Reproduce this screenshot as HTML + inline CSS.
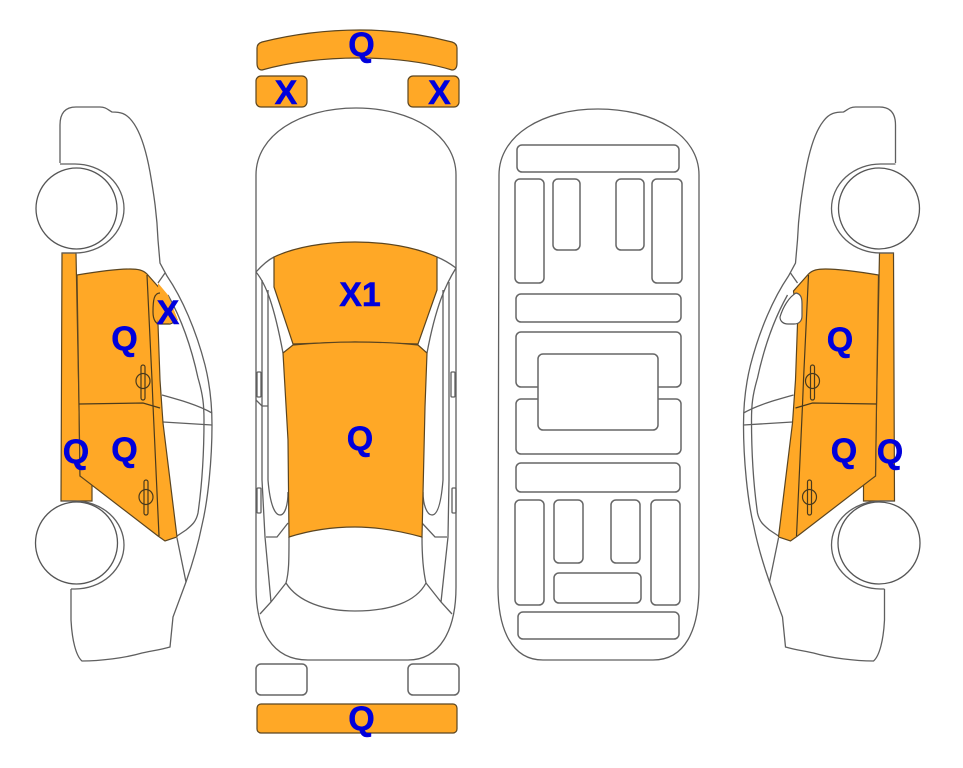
<!DOCTYPE html>
<html>
<head>
<meta charset="utf-8">
<style>
html,body{margin:0;padding:0;background:#fff;}
svg{display:block;}
.o{fill:none;stroke:#5f5f5f;stroke-width:1.3;}
.f{fill:#ffa826;stroke:#5b4520;stroke-width:1.2;}
.n{fill:#ffa826;stroke:none;}
.d{fill:none;stroke:#4a3a1c;stroke-width:1.2;}
.r{fill:#fff;stroke:#666;stroke-width:1.5;}
text{font-family:"Liberation Sans",Arial,sans-serif;font-weight:bold;font-size:34px;fill:#0000dc;stroke:#0000dc;stroke-width:.5;text-anchor:middle;}
</style>
</head>
<body>
<svg width="963" height="768" viewBox="0 0 963 768" xmlns="http://www.w3.org/2000/svg">
<defs>
<g id="side">
  <path class="o" d="M60 163V125C60 112 66 107 76 107H100C106 107 108 110 112 112C120 112 126 113 132 121C140 131 146 150 150 172C154 195 157 215 158 240L160 263L167 276C182 298 196 330 205 365C210 385 212 405 212 425C212 460 208 500 202 525C198 545 192 565 186 582L173 617L170 647C160 650 150 651 142 653C125 658 100 661 82 661C76 656 72 640 71 620L71 589"/>
  <path class="o" d="M168 295C182 320 192 350 198 378C203 395 204 405 204 420C204 450 202 485 198 513C196 522 192 525 186 530L177 536"/>
  <path class="o" d="M165 273L158 283M162 395C180 400 198 405 212 413M163 422L212 425M177 538L186 582"/>
  <path class="f" d="M62 253H76L79 405L80 476L92 484V501H61Z"/>
  <path class="f" d="M77 275C95 272 115 269 130 269C138 269 143 270 147 274L162 291L158 324L160 380L163 423L170 480L177 537L165 541L158 536L80 476L79 405Z"/>
  <path class="d" d="M147 275L152 380L153 405L159 536M79 404L143 403L160 408"/>
  <rect class="d" x="141" y="365" width="4" height="35" rx="2"/>
  <ellipse class="d" cx="143" cy="381" rx="7" ry="7.500"/>
  <rect class="d" x="144" y="480" width="4" height="35" rx="2"/>
  <ellipse class="d" cx="146" cy="497" rx="7" ry="7.500"/>
  <path class="o" d="M60 164H75A49 44.500 0 0 1 75 253H62"/>
  <path class="o" d="M62 501H75A49 44 0 0 1 75 589H71"/>
  <circle cx="76.500" cy="208.500" r="40.500" fill="#fff" stroke="#555" stroke-width="1.300"/>
  <circle cx="76.500" cy="543" r="41" fill="#fff" stroke="#555" stroke-width="1.300"/>
</g>
</defs>

<use href="#side"/>
<use href="#side" transform="translate(955.5 0) scale(-1 1)"/>
<!-- left car mirror (orange) -->
<path class="n" d="M158 283L168 295L178 320C172 324 165 324 158 324Z"/>
<path class="d" d="M160 293C154 293 153 300 153 312C153 320 156 324 160 324H170L177 321"/>
<!-- right car mirror (white) -->
<path d="M796 293C801 294 802 298 802 304V316C802 321 799 324 794 324H788C783 324 780 321 780 317C783 307 789 297 796 293Z" fill="#fff" stroke="#555" stroke-width="1.200"/>

<!-- top view -->
<path class="f" d="M257 48C257 45 259 43 262 42C290 35 325 30 360 30C392 30 425 35 452 42C455 43 457 45 457 48V63C457 68 455 70 452 70C425 62 392 58 358 58C325 58 290 62 262 70C259 70 257 68 257 63Z"/>
<rect class="f" x="256" y="76" width="51" height="31" rx="5"/>
<rect class="f" x="408" y="76" width="51" height="31" rx="5"/>
<path class="o" stroke-width="1.500" d="M256 175C256 135 300 108 356 108C412 108 456 135 456 175V587C456 630 440 660 408 660H308C272 660 256 630 256 587Z"/>
<path class="o" d="M256 272C265 262 272 258 274 257M456 268C448 262 442 259 437 257"/>
<path class="o" d="M256 272C266 284 274 305 283 353M456 268C446 284 436 305 427 353"/>
<path class="o" d="M262 280V480L265 537L271 602M268 290V480C270 505 275 515 280 515C285 515 288 505 288 492"/>
<path class="o" d="M449 282V480L448 537L441 602M443 290V480C441 505 437 515 432 515C427 515 423 505 423 492"/>
<path class="o" d="M256 400L262 406H268M266 537H277L288 523M447 537H435L422 523"/>
<path class="o" d="M260 614L271 602L286 583M452 614L441 602L426 583"/>
<path class="o" d="M289 537C289 560 289 572 286 583C298 602 325 611 355 611C390 611 416 602 426 583C423 570 422 555 422 537"/>
<rect class="o" x="257" y="372" width="4" height="25" rx="1"/>
<rect class="o" x="257" y="488" width="4" height="25" rx="1"/>
<rect class="o" x="451" y="372" width="4" height="25" rx="1"/>
<rect class="o" x="452" y="488" width="4" height="25" rx="1"/>
<path class="f" d="M274 257C295 247 325 242 355 242C385 242 415 247 437 257V290L418 344L355 342L293 344L274 287Z"/>
<path class="f" d="M283 353L293 345C315 343 335 342 355 342C378 342 400 343 418 345L427 353L425 407L422 537C400 531 378 527 355 527C330 527 308 531 289 537L288 440Z"/>
<rect class="r" x="256" y="664" width="51" height="31" rx="5"/>
<rect class="r" x="408" y="664" width="51" height="31" rx="5"/>
<rect class="f" x="257" y="704" width="200" height="29" rx="4"/>

<!-- underside view -->
<path class="o" stroke-width="1.500" d="M499 175C499 135 543 109 598 109C654 109 699 135 699 175V587C699 630 685 660 653 660H543C512 660 498 630 498 587Z"/>
<g fill="#fff" stroke="#666" stroke-width="1.500">
<rect x="517" y="145" width="162" height="27" rx="5"/>
<rect x="515" y="179" width="29" height="104" rx="5"/>
<rect x="553" y="179" width="27" height="71" rx="5"/>
<rect x="616" y="179" width="28" height="71" rx="5"/>
<rect x="652" y="179" width="30" height="104" rx="5"/>
<rect x="516" y="294" width="165" height="28" rx="5"/>
<rect x="516" y="332" width="165" height="55" rx="5"/>
<rect x="516" y="399" width="165" height="55" rx="5"/>
<rect x="538" y="354" width="120" height="76" rx="5"/>
<rect x="516" y="463" width="164" height="29" rx="5"/>
<rect x="515" y="500" width="29" height="105" rx="5"/>
<rect x="554" y="500" width="29" height="63" rx="5"/>
<rect x="611" y="500" width="29" height="63" rx="5"/>
<rect x="651" y="500" width="29" height="105" rx="5"/>
<rect x="554" y="573" width="87" height="30" rx="5"/>
<rect x="518" y="612" width="161" height="27" rx="5"/>
</g>

<!-- labels -->
<text x="361.500" y="56">Q</text>
<text x="286" y="104">X</text>
<text x="439.500" y="104">X</text>
<text x="360" y="306">X1</text>
<text x="360" y="450">Q</text>
<text x="361.500" y="730">Q</text>
<text x="124.500" y="350">Q</text>
<text x="168" y="324">X</text>
<text x="124.500" y="461">Q</text>
<text x="76" y="463">Q</text>
<text x="840" y="351">Q</text>
<text x="844" y="462">Q</text>
<text x="890" y="463">Q</text>
</svg>
</body>
</html>
